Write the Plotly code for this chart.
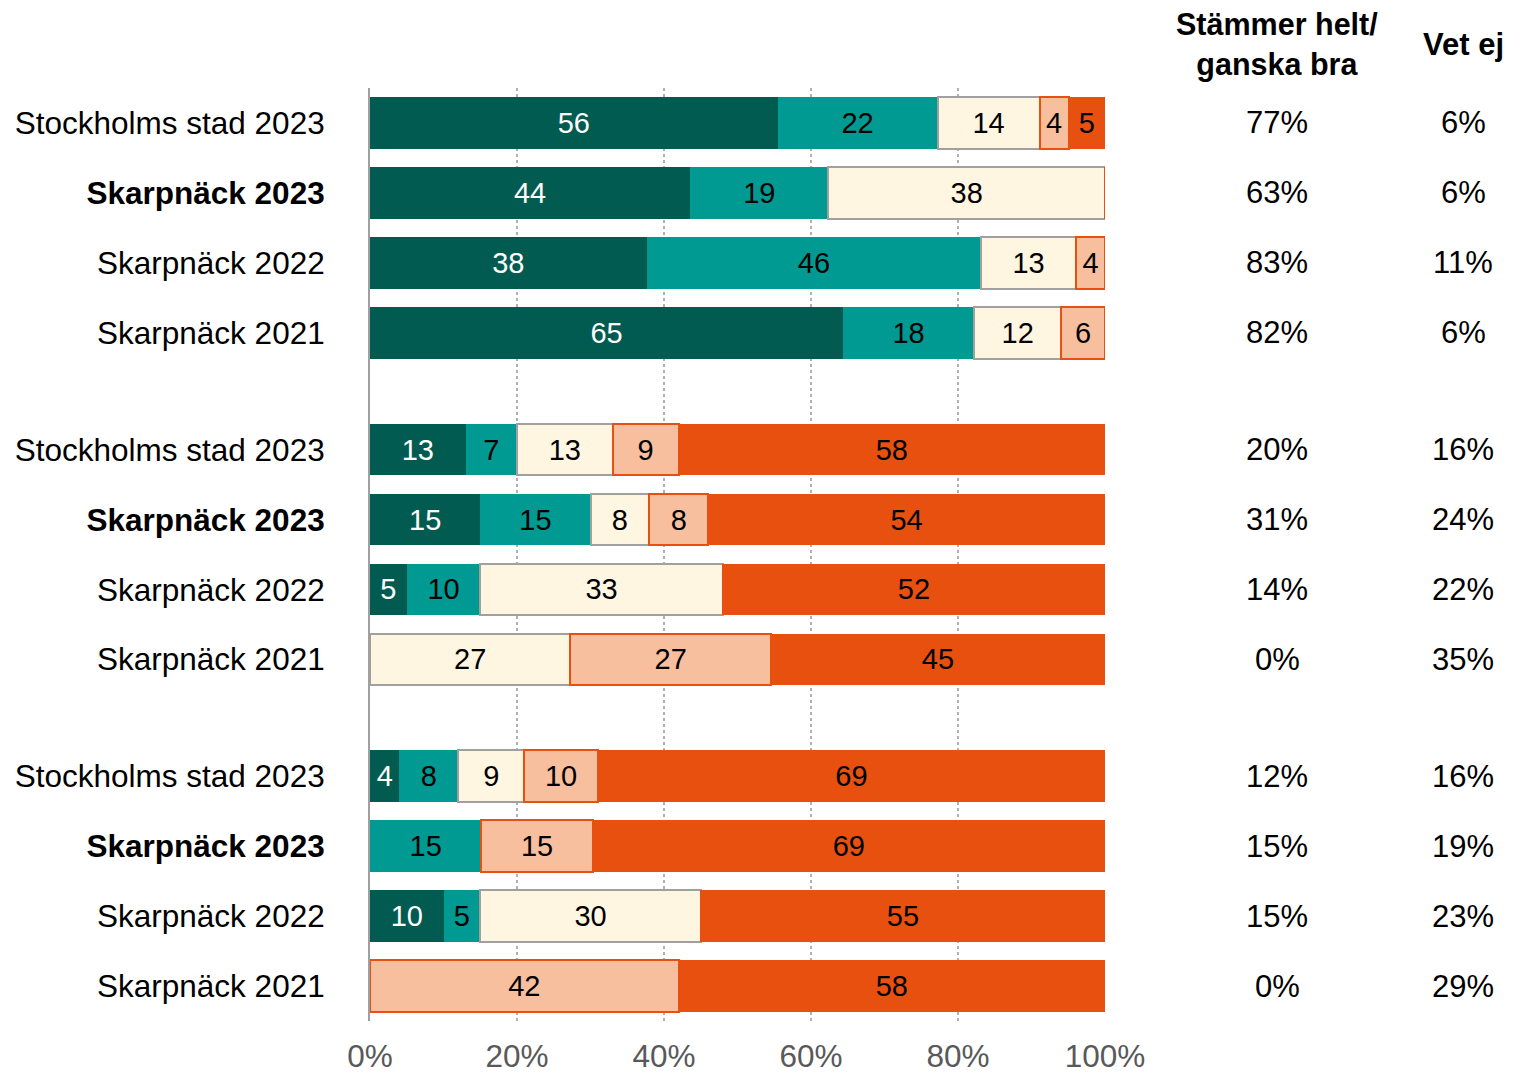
import plotly.graph_objects as go

rows = ["Stockholms stad 2023", "Skarpnäck 2023", "Skarpnäck 2022", "Skarpnäck 2021"] * 3
bold_rows = [False, True, False, False] * 3

s1 = [56, 44, 38, 65, 13, 15, 5, 0, 4, 0, 10, 0]   # dark green
s2 = [22, 19, 46, 18, 7, 15, 10, 0, 8, 15, 5, 0]   # teal
s3 = [14, 38, 13, 12, 13, 8, 33, 27, 9, 0, 30, 0]  # cream
s4 = [4, 0, 4, 6, 9, 8, 0, 27, 10, 15, 0, 42]      # light salmon
s5 = [5, 0, 0, 0, 58, 54, 52, 45, 69, 69, 55, 58]  # orange

agree = ["77%", "63%", "83%", "82%", "20%", "31%", "14%", "0%", "12%", "15%", "15%", "0%"]
dontknow = ["6%", "6%", "11%", "6%", "16%", "24%", "22%", "35%", "16%", "19%", "23%", "29%"]

header_agree = "Stämmer helt/<br>ganska bra"
header_dk = "Vet ej"
x_ticks = [0, 20, 40, 60, 80, 100]
x_ticklabels = ["0%", "20%", "40%", "60%", "80%", "100%"]

colors = ["#025B50", "#009A93", "#FFF6E2", "#F8BF9E", "#E8500F"]
line_colors = ["#025B50", "#009A93", "#A0A0A0", "#E8500F", "#E8500F"]
line_widths = [0, 0, 2, 2, 0]
text_colors = ["white", "black", "black", "black", "black"]

group_gap = 0.67
ypos = [g * (4 + group_gap) + i for g in range(3) for i in range(4)]
series = [s1, s2, s3, s4, s5]
totals = [sum(s[k] for s in series) for k in range(12)]

fig = go.Figure()
for s, c, lc, lw, tc in zip(series, colors, line_colors, line_widths, text_colors):
    xs = [v / t * 100 for v, t in zip(s, totals)]
    fig.add_trace(go.Bar(
        x=xs, y=ypos, orientation="h", width=0.74,
        marker=dict(color=c, line=dict(color=lc, width=lw)),
        text=[str(v) if v > 0 else "" for v in s],
        textposition="inside", insidetextanchor="middle", textangle=0,
        textfont=dict(family="Liberation Sans Narrow, Arial Narrow, Liberation Sans", size=29, color=tc),
        hoverinfo="skip", showlegend=False,
    ))

ticktext = [f"<b>{r}</b>" if b else r for r, b in zip(rows, bold_rows)]

W, H = 1526, 1065
ml, mr, mt, mb = 362, 429, 80, 52
pw = W - ml - mr
ph = H - mt - mb
x_agree = (1277 - 8 - ml) / pw
x_dk = (1463 - 8 - ml) / pw
y_header = (H - mb - (45 - 8)) / ph

yrange = [ypos[-1] + 0.5, -0.5]

annotations = []
for yv, a, d in zip(ypos, agree, dontknow):
    annotations.append(dict(x=x_agree, y=yv, xref="paper", yref="y", text=a, showarrow=False,
                            xanchor="center",
                            font=dict(family="Liberation Sans", size=31, color="black")))
    annotations.append(dict(x=x_dk, y=yv, xref="paper", yref="y", text=d, showarrow=False,
                            xanchor="center",
                            font=dict(family="Liberation Sans", size=31, color="black")))
annotations.append(dict(x=x_agree, y=y_header, xref="paper", yref="paper",
                        xanchor="center", yanchor="middle", text=f"<b>{header_agree}</b>",
                        showarrow=False, font=dict(family="Liberation Sans", size=30.5, color="black")))
annotations.append(dict(x=x_dk, y=y_header, xref="paper", yref="paper",
                        xanchor="center", yanchor="middle", text=f"<b>{header_dk}</b>",
                        showarrow=False, font=dict(family="Liberation Sans", size=31, color="black")))

fig.update_layout(
    barmode="stack",
    width=W, height=H,
    margin=dict(l=ml, r=mr, t=mt, b=mb, autoexpand=False),
    paper_bgcolor="white", plot_bgcolor="white",
    uniformtext=dict(minsize=29, mode="show"),
    annotations=annotations,
    xaxis=dict(range=[0, 100], tickvals=x_ticks, ticktext=x_ticklabels, automargin=False,
               showgrid=True, gridcolor="#B0B0B0", griddash="dot", gridwidth=2,
               zeroline=False, showline=False, ticks="", ticklabelstandoff=13,
               tickfont=dict(family="Liberation Sans", size=31.5, color="#595959")),
    yaxis=dict(range=yrange, tickvals=ypos, ticktext=ticktext, automargin=False,
               showgrid=False, zeroline=False, showline=True, linecolor="#A0A0A0", linewidth=2,
               ticks="", ticklabelstandoff=37,
               tickfont=dict(family="Liberation Sans", size=31.5, color="black")),
    font=dict(family="Liberation Sans"),
)

fig.write_html("out.html")
